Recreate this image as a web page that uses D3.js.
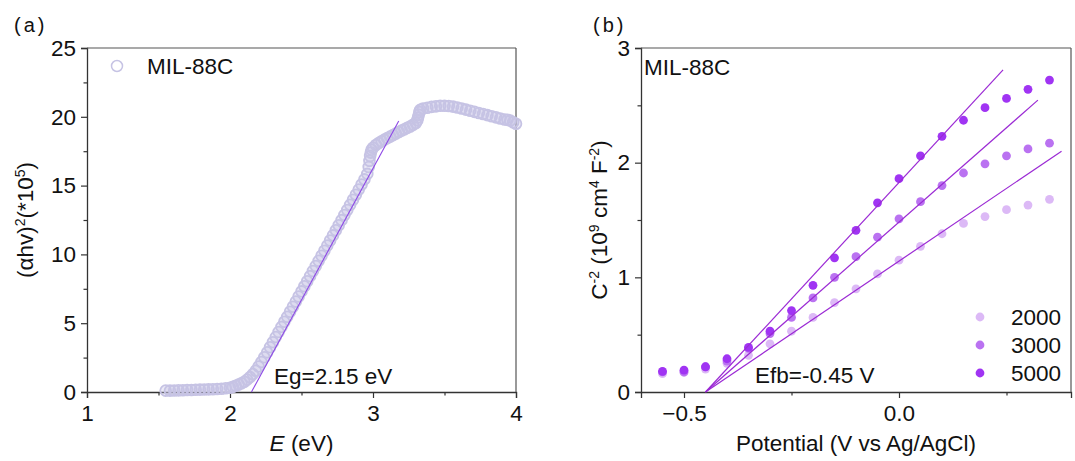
<!DOCTYPE html>
<html>
<head>
<meta charset="utf-8">
<script src="https://cdn.jsdelivr.net/npm/d3@7/dist/d3.min.js"></script>
<style>
  html, body { margin: 0; padding: 0; background: #fff; }
  svg { display: block; font-family: "Liberation Sans", Arial, sans-serif; }
</style>
</head>
<body>
<svg id="chart" width="1075" height="461"></svg>
<script>
// ---- (a) Tauc plot data: photon energy (eV) vs (αhν)² (×10⁵) ----
const energyEV = [
  1.55, 1.58, 1.61, 1.64, 1.67, 1.70, 1.73, 1.76, 1.79, 1.82, 1.85, 1.88, 1.91, 1.94, 1.97,
  2.00, 2.02, 2.04, 2.06, 2.08, 2.10, 2.12, 2.14, 2.16, 2.18, 2.20, 2.22, 2.24, 2.26, 2.28,
  2.30, 2.32, 2.34, 2.36, 2.38, 2.40, 2.42, 2.44, 2.46, 2.48, 2.50, 2.52, 2.54, 2.56, 2.58,
  2.60, 2.62, 2.64, 2.66, 2.68, 2.70, 2.72, 2.74, 2.76, 2.78, 2.80, 2.82, 2.84, 2.86, 2.88,
  2.90, 2.92, 2.94, 2.96, 2.97, 2.975, 2.98, 2.985, 2.99, 3.00, 3.02, 3.04, 3.06, 3.08, 3.10,
  3.12, 3.14, 3.16, 3.18, 3.20, 3.22, 3.24, 3.26, 3.28, 3.30, 3.31, 3.315, 3.32, 3.325, 3.33,
  3.35, 3.38, 3.41, 3.44, 3.47, 3.50, 3.53, 3.56, 3.59, 3.62, 3.65, 3.68, 3.71, 3.74, 3.77,
  3.80, 3.83, 3.86, 3.89, 3.92, 3.94, 3.96, 3.98, 4.00
];
const taucValue = [
  0.10, 0.10, 0.11, 0.12, 0.13, 0.14, 0.15, 0.16, 0.17, 0.18, 0.19, 0.20, 0.22, 0.24, 0.27,
  0.31, 0.37, 0.45, 0.55, 0.64, 0.75, 0.90, 1.08, 1.30, 1.55, 1.85, 2.18, 2.52, 2.88, 3.25,
  3.62, 3.99, 4.36, 4.73, 5.10, 5.46, 5.83, 6.20, 6.57, 6.94, 7.31, 7.68, 8.05, 8.42, 8.79,
  9.16, 9.53, 9.90, 10.27, 10.64, 11.01, 11.38, 11.75, 12.12, 12.49, 12.86, 13.23, 13.60, 13.97, 14.34,
  14.71, 15.08, 15.45, 15.85, 16.35, 16.80, 17.15, 17.40, 17.60, 17.75, 17.95, 18.10, 18.22, 18.34, 18.45,
  18.56, 18.67, 18.78, 18.89, 19.00, 19.10, 19.20, 19.30, 19.42, 19.55, 19.75, 19.95, 20.15, 20.35, 20.50,
  20.60, 20.66, 20.72, 20.76, 20.80, 20.80, 20.78, 20.74, 20.68, 20.60, 20.52, 20.44, 20.36, 20.28, 20.20,
  20.12, 20.04, 19.96, 19.88, 19.80, 19.78, 19.72, 19.60, 19.50
];
// linear extrapolation of the absorption edge
const edgeFitE = [2.15, 3.18];
const edgeFitV = [0, 19.7];

// ---- (b) Mott–Schottky data: potential (V vs Ag/AgCl) vs C⁻² (10⁹ cm⁴ F⁻²) ----
const potential = [-0.55, -0.50, -0.45, -0.40, -0.35, -0.30, -0.25, -0.20, -0.15, -0.10,
                   -0.05, 0.00, 0.05, 0.10, 0.15, 0.20, 0.25, 0.30, 0.35];
const freqLabels = ["2000", "3000", "5000"];
const c2000 = [0.16, 0.17, 0.20, 0.25, 0.32, 0.42, 0.53, 0.65, 0.78, 0.90,
               1.03, 1.15, 1.27, 1.38, 1.47, 1.53, 1.59, 1.63, 1.68];
const c3000 = [0.175, 0.175, 0.22, 0.27, 0.38, 0.51, 0.65, 0.82, 1.00, 1.18,
               1.35, 1.51, 1.66, 1.80, 1.91, 1.99, 2.06, 2.12, 2.17];
const c5000 = [0.18, 0.19, 0.22, 0.29, 0.39, 0.53, 0.71, 0.93, 1.17, 1.41,
               1.65, 1.86, 2.06, 2.23, 2.37, 2.48, 2.56, 2.64, 2.72];
// linear fits: common x-intercept (flat-band potential) and upper end points
const flatBand = -0.45;
const fitEndP = [0.378, 0.323, 0.242];
const fitEndV = [2.10, 2.545, 2.81];

const xTicksA = [1, 2, 3, 4];
const xMinorA = [1.5, 2.5, 3.5];
const yTicksA = [0, 5, 10, 15, 20, 25];
const yMinorA = [2.5, 7.5, 12.5, 17.5, 22.5];
const xTicksB = [-0.5, 0.0];
const xMinorB = [-0.25, 0.25];
const yTicksB = [0, 1, 2, 3];
const yMinorB = [0.5, 1.5, 2.5];

const svg = d3.select("#chart");
const FS = 22.5;
const axisColor = "#333";
const lavender = "#c6c3e4";
const fitColorA = "#8e48e6";
const fitColorB = "#9b2ad4";
const dotColors = ["#dcb9f6", "#ba72f1", "#a034f3"];

const xA = d3.scaleLinear().domain([1, 4]).range([87, 516]);
const yA = d3.scaleLinear().domain([0, 25]).range([392, 48]);
const xB = d3.scaleLinear().domain([-0.6, 0.4]).range([641, 1071]);
const yB = d3.scaleLinear().domain([0, 3]).range([392, 48]);

function drawAxes(x, y, xt, xm, yt, ym, xfmt, yfmt) {
  const [x0, x1] = x.range();
  const [y0, y1] = y.range();
  const gx = svg.append("g").attr("transform", `translate(0,${y0})`)
    .call(d3.axisBottom(x).tickValues(xt).tickFormat(xfmt).tickSize(6).tickPadding(7));
  const gxm = svg.append("g").attr("transform", `translate(0,${y0})`)
    .call(d3.axisBottom(x).tickValues(xm).tickFormat("").tickSize(3.5));
  const gy = svg.append("g").attr("transform", `translate(${x0},0)`)
    .call(d3.axisLeft(y).tickValues(yt).tickFormat(yfmt).tickSize(6).tickPadding(5));
  const gym = svg.append("g").attr("transform", `translate(${x0},0)`)
    .call(d3.axisLeft(y).tickValues(ym).tickFormat("").tickSize(3.5));
  [gxm, gym].forEach(g => g.select(".domain").remove());
  [gx, gxm, gy, gym].forEach(g => {
    g.selectAll("line").attr("stroke", axisColor).attr("stroke-width", 1.2);
    g.select(".domain").attr("stroke", axisColor).attr("stroke-width", 1.3);
    g.selectAll("text").attr("font-size", FS).attr("fill", "#111")
      .attr("font-family", "'Liberation Sans', Arial, sans-serif");
  });
  // frame: top and right edges
  svg.append("line").attr("x1", x0).attr("x2", x1).attr("y1", y1).attr("y2", y1)
    .attr("stroke", "#555").attr("stroke-width", 1.2);
  svg.append("line").attr("x1", x1).attr("x2", x1).attr("y1", y1).attr("y2", y0)
    .attr("stroke", "#555").attr("stroke-width", 1.2);
}

// ================= panel (a) =================
drawAxes(xA, yA, xTicksA, xMinorA, yTicksA, yMinorA, d3.format("d"), d3.format("d"));

const taucPts = energyEV.map((e, i) => ({ e, v: taucValue[i] }));
svg.append("g").selectAll("circle").data(taucPts).join("circle")
  .attr("cx", d => xA(d.e)).attr("cy", d => yA(d.v)).attr("r", 5.4)
  .attr("fill", lavender).attr("fill-opacity", 0.35)
  .attr("stroke", lavender).attr("stroke-width", 1.8);

svg.append("line")
  .attr("x1", xA(edgeFitE[0])).attr("y1", yA(edgeFitV[0]))
  .attr("x2", xA(edgeFitE[1])).attr("y2", yA(edgeFitV[1]))
  .attr("stroke", fitColorA).attr("stroke-width", 1.1);

svg.append("text").attr("x", 274).attr("y", 384).attr("font-size", FS).attr("fill", "#111")
  .text("Eg=2.15 eV");

// legend
svg.append("circle").attr("cx", 117).attr("cy", 66).attr("r", 5.5)
  .attr("fill", "#fff").attr("stroke", lavender).attr("stroke-width", 1.5);
svg.append("text").attr("x", 147).attr("y", 74).attr("font-size", FS).attr("fill", "#111")
  .text("MIL-88C");

// axis titles
const xtA = svg.append("text").attr("x", xA(2.5)).attr("y", 451).attr("text-anchor", "middle")
  .attr("font-size", FS).attr("fill", "#111");
xtA.append("tspan").attr("font-style", "italic").text("E");
xtA.append("tspan").text(" (eV)");

const ytA = svg.append("text").attr("transform", `translate(33,${yA(12.5)}) rotate(-90)`)
  .attr("text-anchor", "middle").attr("font-size", FS).attr("fill", "#111");
ytA.append("tspan").text("(αhv)");
ytA.append("tspan").attr("font-size", 14).attr("dy", -8).text("2");
ytA.append("tspan").attr("dy", 8).text("(*10");
ytA.append("tspan").attr("font-size", 14).attr("dy", -8).text("5");
ytA.append("tspan").attr("dy", 8).text(")");

// panel tag
svg.append("text").attr("x", 14).attr("y", 32).attr("font-size", 20).attr("fill", "#111")
  .attr("letter-spacing", 3).text("(a)");

// ================= panel (b) =================
drawAxes(xB, yB, xTicksB, xMinorB, yTicksB, yMinorB, d3.format(".1f"), d3.format("d"));

const seriesB = [c2000, c3000, c5000];
seriesB.forEach((vals, k) => {
  svg.append("g").selectAll("circle").data(potential.map((p, i) => ({ p, v: vals[i] })))
    .join("circle")
    .attr("cx", d => xB(d.p)).attr("cy", d => yB(d.v)).attr("r", 4.4)
    .attr("fill", dotColors[k]);
});

fitEndP.forEach((p, k) => {
  svg.append("line")
    .attr("x1", xB(flatBand)).attr("y1", yB(0))
    .attr("x2", xB(p)).attr("y2", yB(fitEndV[k]))
    .attr("stroke", fitColorB).attr("stroke-width", 1.2);
});

svg.append("text").attr("x", 755).attr("y", 383).attr("font-size", FS).attr("fill", "#111")
  .text("Efb=-0.45 V");
svg.append("text").attr("x", 644).attr("y", 75).attr("font-size", FS).attr("fill", "#111")
  .text("MIL-88C");

// legend
freqLabels.forEach((lab, k) => {
  const cy = 317 + k * 28;
  svg.append("circle").attr("cx", 980).attr("cy", cy).attr("r", 4.4).attr("fill", dotColors[k]);
  svg.append("text").attr("x", 1011).attr("y", cy + 8).attr("font-size", FS).attr("fill", "#111")
    .text(lab);
});

svg.append("text").attr("x", xB(-0.1)).attr("y", 451).attr("text-anchor", "middle")
  .attr("font-size", FS).attr("fill", "#111").text("Potential (V vs Ag/AgCl)");

const ytB = svg.append("text").attr("transform", `translate(607,${yB(1.5)}) rotate(-90)`)
  .attr("text-anchor", "middle").attr("font-size", FS).attr("fill", "#111");
ytB.append("tspan").text("C");
ytB.append("tspan").attr("font-size", 14).attr("dy", -8).text("-2");
ytB.append("tspan").attr("dy", 8).text(" (10");
ytB.append("tspan").attr("font-size", 14).attr("dy", -8).text("9");
ytB.append("tspan").attr("dy", 8).text(" cm");
ytB.append("tspan").attr("font-size", 14).attr("dy", -8).text("4");
ytB.append("tspan").attr("dy", 8).text(" F");
ytB.append("tspan").attr("font-size", 14).attr("dy", -8).text("-2");
ytB.append("tspan").attr("dy", 8).text(")");

svg.append("text").attr("x", 593).attr("y", 32).attr("font-size", 20).attr("fill", "#111")
  .attr("letter-spacing", 3).text("(b)");
</script>
</body>
</html>
